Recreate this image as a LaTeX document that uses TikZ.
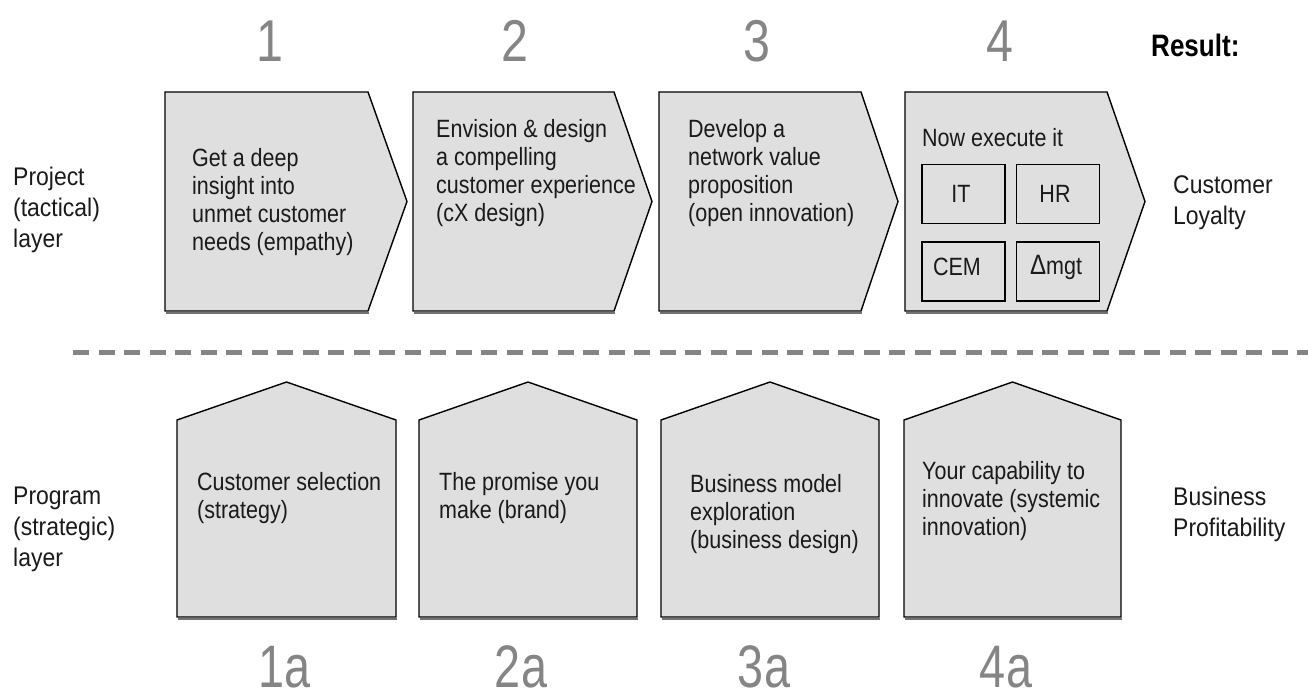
\documentclass[tikz,border=0pt]{standalone}
\usepackage{fontspec}
\setmainfont{Liberation Sans}[FakeStretch=0.86]
\newfontfamily\sidefont{Liberation Sans}[FakeStretch=0.9]
\newfontfamily\numfont{Liberation Sans}[FakeStretch=0.82]
\newfontfamily\numfontb{Liberation Sans}[FakeStretch=0.78]
\newfontfamily\resfont{Liberation Sans}[FakeStretch=0.84]
\definecolor{boxfill}{HTML}{DFDFDF}
\definecolor{numgray}{HTML}{858585}
\definecolor{txt}{HTML}{1A1A1A}
\tikzset{
  shapebox/.style={draw=black, line width=1.4pt, fill=boxfill, line join=miter},
  shadowbox/.style={draw=black!55, line width=1.4pt},
  inbox/.style={draw=black, line width=1.2pt, fill=boxfill, minimum width=83pt, minimum height=59pt, inner sep=0pt},
  boxtext/.style={anchor=north west, inner sep=0pt, align=left, text=txt, font=\fontsize{25}{28}\selectfont},
  sidetext/.style={anchor=north west, inner sep=0pt, align=left, text=txt, font=\sidefont\fontsize{25.5}{31}\selectfont},
  intext/.style={inner sep=0pt, text=txt, font=\fontsize{25}{28}\selectfont},
  bignum/.style={anchor=base, inner sep=0pt, text=numgray, font=\numfont\fontsize{59}{60}\selectfont},
  bignumb/.style={anchor=base, inner sep=0pt, text=numgray, font=\numfontb\fontsize{60}{61}\selectfont},
  divider/.style={draw=numgray, line width=5pt, dash pattern=on 16pt off 9.5pt}
}
\begin{document}
\begin{tikzpicture}[x=1pt,y=-1pt]
\useasboundingbox (0,0) rectangle (1308,700);
% top chevrons
\foreach \l/\r/\t in {165/368/407, 413/614/652, 659/861/898, 905/1107/1145}{
  \draw[shadowbox] ([xshift=1pt,yshift=-2pt]\l,311) -- ([xshift=1pt,yshift=-2pt]\r,311);
  \draw[shapebox] (\l,92) -- (\r,92) -- (\t,201.5) -- (\r,311) -- (\l,311) -- cycle;
}
% houses
\foreach \l/\r in {177/396, 419/637, 661/879, 904/1121}{
  \draw[shadowbox] ([xshift=1pt,yshift=-2pt]\l,617) -- ([xshift=1pt,yshift=-2pt]\r,617);
  \draw[shapebox] (\l,617) -- (\l,420) -- ({(\l+\r)/2},382) -- (\r,420) -- (\r,617) -- cycle;
}
% divider
\coordinate (dl) at (73,352);
\coordinate (dr) at (1308,352);
\draw[divider] (dl) -- (dr);
% numbers
\node[bignum] (n1) at (270,62) {1};
\node[bignum] (n2) at (515,62) {2};
\node[bignum] (n3) at (757,62) {3};
\node[bignum] (n4) at (1000,62) {4};
\node[anchor=base west, inner sep=0pt, text=black, font=\resfont\bfseries\fontsize{31}{32}\selectfont] (res) at (1151,57) {Result:};
\node[bignumb] (n1a) at (285,687) {1a};
\node[bignumb] (n2a) at (521,687) {2a};
\node[bignumb] (n3a) at (764,687) {3a};
\node[bignumb] (n4a) at (1006,687) {4a};
% top texts (first baseline minus strut height 19.6)
\node[boxtext] (t1) at (192,146.4) {\strut Get a deep\\insight into\\unmet customer\\needs (empathy)};
\node[boxtext] (t2) at (436,117.4) {\strut Envision \& design\\a compelling\\customer experience\\(cX design)};
\node[boxtext] (t3) at (688,117.4) {\strut Develop a\\network value\\proposition\\(open innovation)};
\node[boxtext] (t4) at (922,126.4) {\strut Now execute it};
% inner boxes
\node[inbox] (bit) at (963.5,194) {};
\node[inbox] (bhr) at (1058,194) {};
\node[inbox] (bcem) at (963.5,271.5) {};
\node[inbox] (bmgt) at (1058,271.5) {};
\node[intext] (it) at (961,194) {IT};
\node[intext] (hr) at (1055,194) {HR};
\node[intext] (cem) at (957,267) {CEM};
\node[intext] (mgt) at (1056,267) {{\fontsize{28}{28}\selectfont Δ}mgt};
% bottom texts
\node[boxtext] (b1) at (197,471) {\strut Customer selection\\(strategy)};
\node[boxtext] (b2) at (439,471) {\strut The promise you\\make (brand)};
\node[boxtext] (b3) at (690,473) {\strut Business model\\exploration\\(business design)};
\node[boxtext] (b4) at (922,460) {\strut Your capability to\\innovate (systemic\\innovation)};
% side labels
\node[sidetext] (s1) at (13,163.3) {\strut Project\\(tactical)\\layer};
\node[sidetext] (s2) at (1173,171.3) {\strut Customer\\Loyalty};
\node[sidetext] (s3) at (13,482.3) {\strut Program\\(strategic)\\layer};
\node[sidetext] (s4) at (1173,483.3) {\strut Business\\Profitability};
\end{tikzpicture}
\end{document}
